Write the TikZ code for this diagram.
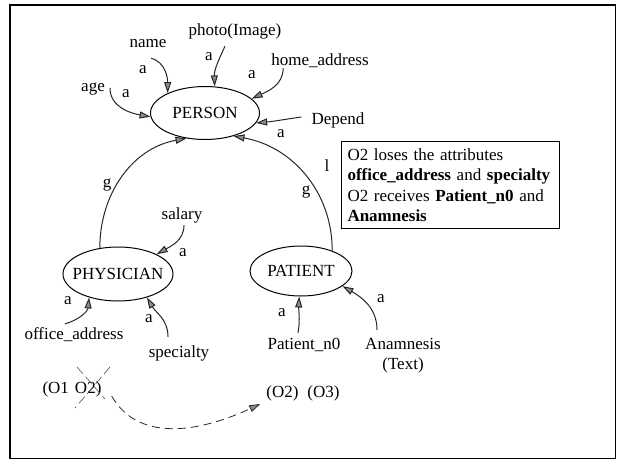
\documentclass[tikz,border=0pt]{standalone}
\usepackage{fontspec}
\setmainfont{Liberation Serif}
\usetikzlibrary{arrows.meta,shapes.geometric}
\begin{document}
\begin{tikzpicture}[x=1pt,y=1pt,
  every node/.style={font=\fontsize{17}{20.5}\selectfont},
  cls/.style={draw, ellipse, line width=1pt, inner sep=0pt},
  lbl/.style={inner sep=1pt, text height=12pt, text depth=4pt},
  conn/.style={line width=1pt, draw=black!85, -{Triangle[length=11pt,width=7pt,fill=black!45]}},
  dconn/.style={conn, dash pattern=on 8pt off 5pt, line width=0.8pt},
  xmark/.style={line width=0.6pt, draw=black!70, dash pattern=on 9pt off 4pt}
]
\useasboundingbox (0,0) rectangle (617,-460);
\draw[line width=1.5pt] (10,-5) rectangle (615.5,-458.5);

% class ellipses
\node[cls, minimum width=109pt, minimum height=53pt] (person) at (205,-113) {\makebox[0pt]{PERSON}};
\node[cls, minimum width=110pt, minimum height=54pt] (phys) at (118,-274) {\makebox[0pt]{PHYSICIAN}};
\node[cls, minimum width=102pt, minimum height=50pt] (patient) at (301,-271) {\makebox[0pt]{PATIENT}};

% attribute texts
\node[lbl] (age) at (93,-87) {age};
\node[lbl] (name) at (148,-44) {name};
\node[lbl] (photo) at (235,-32) {photo(Image)};
\node[lbl] (home) at (320,-61) {home\_address};
\node[lbl] (dep) at (338,-120) {Depend};
\node[lbl] (salary) at (182,-215) {salary};
\node[lbl] (office) at (74,-335) {office\_address};
\node[lbl] (spec) at (179,-353) {specialty};
\node[lbl] (pn0) at (304,-345) {Patient\_n0};
\node[lbl] (anam) at (403,-345) {Anamnesis};
\node[lbl] (anamt) at (403,-365) {(Text)};
\node[lbl] (o12) at (72,-389) {(O1\hspace{6pt}O2)};
\node[lbl] (o23) at (303,-393) {(O2)\hspace{9pt}(O3)};

% edge labels
\node[lbl] (la1) at (126,-93) {a};
\node[lbl] (la2) at (143,-69) {a};
\node[lbl] (la3) at (209,-56) {a};
\node[lbl] (la4) at (252,-74) {a};
\node[lbl] (la5) at (281,-133) {a};
\node[lbl] (la6) at (183,-252) {a};
\node[lbl] (la7) at (68,-300) {a};
\node[lbl] (la8) at (149,-318) {a};
\node[lbl] (la9) at (282,-312) {a};
\node[lbl] (la10) at (381,-298) {a};
\node[lbl] (lg1) at (107,-183) {g};
\node[lbl] (lg2) at (306,-190) {g};
\node[lbl] (ll) at (327,-167) {l};

% note box
\node[draw, line width=1pt, anchor=north west, align=left, text width=206pt,
      inner xsep=6pt, inner ysep=7pt] (note) at (341,-141)
 {O2 loses the attributes\\
  \textbf{office\_address} and \textbf{specialty}\\
  O2 receives \textbf{Patient\_n0} and\\
  \textbf{Anamnesis}};

% attribute arrows to PERSON
\draw[conn] ([shift={(4pt,-1pt)}]age.east) to[out=270,in=170] (person.184);
\draw[conn] ([shift={(3pt,-5pt)}]name.south) to[out=-15,in=90] (person.152);
\draw[conn] ([shift={(-10pt,-5pt)}]photo.south) to[out=245,in=92] (person.70);
\draw[conn] ([shift={(13pt,2pt)}]home.south west) to[out=270,in=25] (person.17);
\draw[conn] ([shift={(-9pt,3pt)}]dep.west) to[out=188,in=5] (person.349);

% generalisation arcs
\draw[conn] (phys.125) to[out=90,in=190] (person.234);
\draw[conn] (patient.33) to[out=90,in=350] (person.321);

% PHYSICIAN attributes
\draw[conn] ([shift={(2pt,-1pt)}]salary.south) to[out=270,in=30] (phys.27);
\draw[conn] ([shift={(-9pt,2pt)}]office.north) to[out=15,in=265] (phys.219);
\draw[conn] ([shift={(-11pt,7pt)}]spec.north) to[out=90,in=300] (phys.321);

% PATIENT attributes
\draw[conn] ([shift={(-6pt,3pt)}]pn0.north) to[out=80,in=267] (patient.266);
\draw[conn] ([shift={(-26pt,6pt)}]anam.north) to[out=90,in=330] (patient.340);

% object migration
\draw[xmark] (77,-367) -- (105,-399);
\draw[xmark] (110,-367) -- (75,-408);
\draw[dconn] ([shift={(9pt,-7pt)}]o12.east) to[out=-60,in=205] ([shift={(-5pt,-11pt)}]o23.west);
\end{tikzpicture}
\end{document}
